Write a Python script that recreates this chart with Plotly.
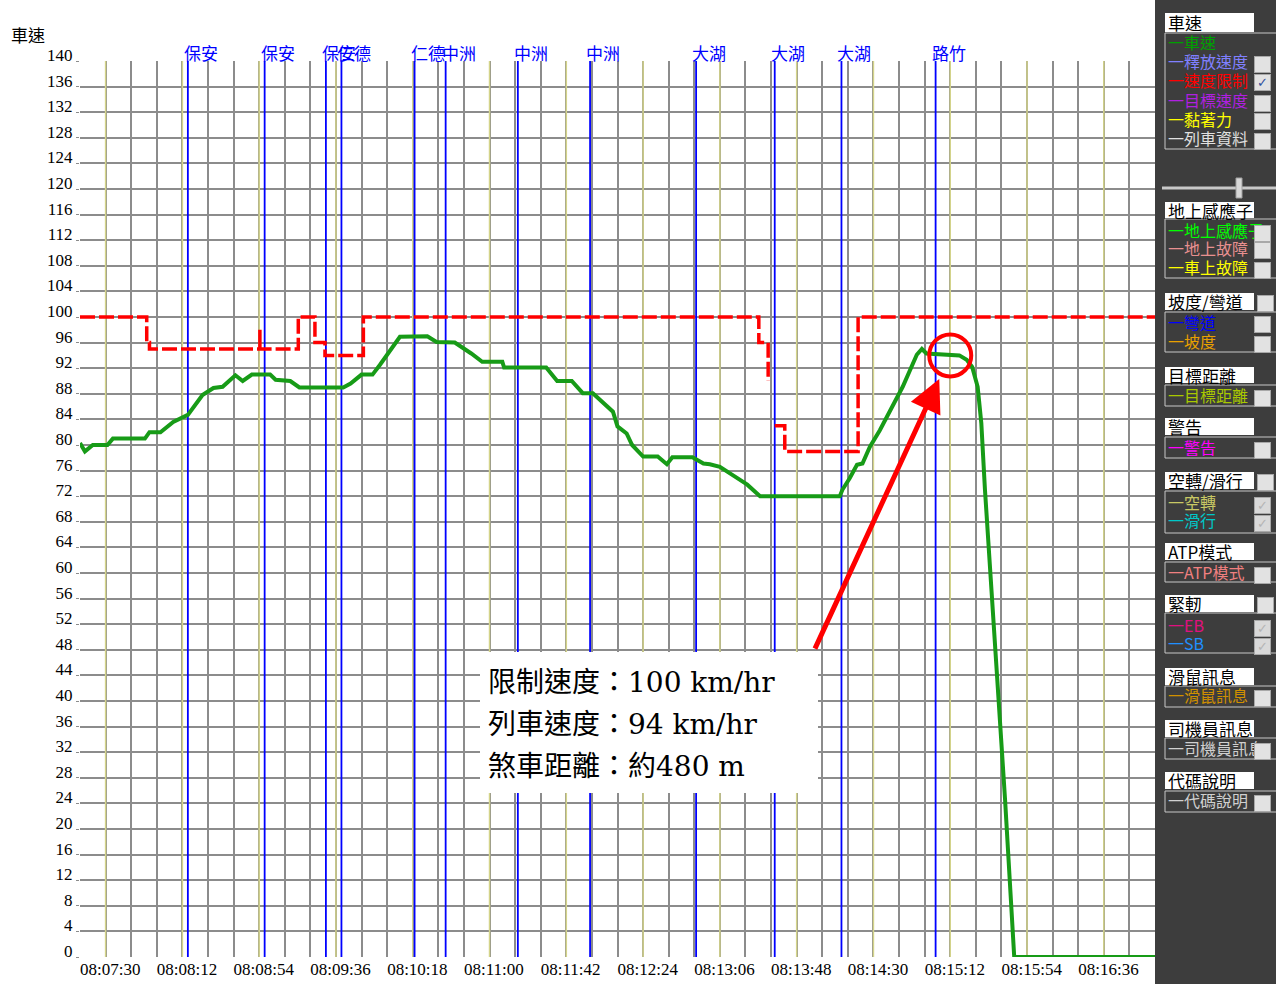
import plotly.graph_objects as go
import pandas as pd

DAY = "2021-01-01 "

# ---------------- data ----------------
speed_time = ["08:07:30", "08:07:32.7", "08:07:37", "08:07:45", "08:07:48", "08:08:05.5", "08:08:08",
              "08:08:14", "08:08:21", "08:08:26", "08:08:29", "08:08:37", "08:08:43", "08:08:48",
              "08:08:55", "08:08:59", "08:09:04", "08:09:14", "08:09:17", "08:09:25", "08:09:30",
              "08:09:54", "08:09:58", "08:10:04", "08:10:10", "08:10:14", "08:10:20", "08:10:25",
              "08:10:40", "08:10:45", "08:10:55", "08:10:59.5", "08:11:04", "08:11:10", "08:11:21",
              "08:11:22", "08:11:45", "08:11:51", "08:11:59", "08:12:05", "08:12:10.5", "08:12:21.5",
              "08:12:24", "08:12:29", "08:12:32", "08:12:38", "08:12:46", "08:12:51", "08:12:54",
              "08:13:05", "08:13:11", "08:13:14.5", "08:13:20", "08:13:27", "08:13:35", "08:13:40",
              "08:13:42", "08:14:25.6", "08:14:27", "08:14:31", "08:14:35", "08:14:38", "08:14:42",
              "08:14:47.5", "08:14:54.6", "08:15:00", "08:15:07.7", "08:15:10.5", "08:15:13",
              "08:15:31", "08:15:35", "08:15:38", "08:15:41", "08:15:43", "08:15:45", "08:15:49",
              "08:15:56", "08:16:01", "08:17:18"]
speed_kmh = [80.3, 79.0, 80.0, 80.0, 81.0, 81.0, 82.0,
             82.0, 83.6, 84.2, 84.7, 87.8, 88.9, 89.1,
             90.9, 90.0, 91.0, 91.0, 90.2, 90.0, 89.0,
             89.0, 89.6, 91.0, 91.0, 92.5, 94.8, 96.9,
             97.0, 96.1, 96.0, 95.2, 94.3, 93.0, 93.0,
             92.1, 92.1, 90.0, 90.0, 88.1, 88.1, 85.2,
             82.9, 81.8, 80.0, 78.2, 78.2, 77.0, 78.1,
             78.1, 77.1, 77.0, 76.6, 75.3, 73.8, 72.5,
             72.0, 72.0, 73.0, 74.8, 76.9, 77.1, 79.7,
             82.3, 86.0, 89.1, 94.1, 95.0, 94.3,
             94.0, 93.3, 92.2, 89.1, 83.4, 73.0, 55.8,
             24.5, 0.0, 0.0]

limit_time = ["08:07:30", "08:08:06.5", "08:08:08", "08:09:08.4", "08:09:08.4", "08:09:29.4",
              "08:09:38.5", "08:09:44", "08:10:05", "08:13:41.3", "08:13:46.4", "08:13:46.5",
              "08:13:50", "08:13:55.5", "08:14:35.6", "08:17:18"]
limit_kmh = [100, 96, 95, 98, 95, 100,
             96, 94, 100, 96, 90, None,
             83, 79, 100, 100]

station_time = ["08:08:29", "08:09:11", "08:09:44.5", "08:09:53", "08:10:33", "08:10:50",
                "08:11:29.5", "08:12:09", "08:13:07", "08:13:50", "08:14:26.5", "08:15:18"]
station_name = ["保安", "保安", "保安", "仁德", "仁德", "中洲",
                "中洲", "中洲", "大湖", "大湖", "大湖", "路竹"]

marker_time = ["08:07:44", "08:08:26", "08:09:08", "08:09:50", "08:10:32", "08:11:14", "08:11:56",
               "08:12:38", "08:13:20", "08:14:02", "08:14:44", "08:15:26", "08:16:08", "08:16:50"]

x_tick_labels = ["08:07:30", "08:08:12", "08:08:54", "08:09:36", "08:10:18", "08:11:00", "08:11:42",
                 "08:12:24", "08:13:06", "08:13:48", "08:14:30", "08:15:12", "08:15:54", "08:16:36"]
y_tick_values = [0, 4, 8, 12, 16, 20, 24, 28, 32, 36, 40, 44, 48, 52, 56, 60, 64, 68,
                 72, 76, 80, 84, 88, 92, 96, 100, 104, 108, 112, 116, 120, 124, 128, 132, 136, 140]
x_range = ["08:07:30", "08:17:18"]

note_lines = ["限制速度：100 km/hr", "列車速度：94 km/hr", "煞車距離：約480 m"]
highlight_time, highlight_kmh = "08:15:26", 94
arrow_tip_time, arrow_tip_kmh = "08:15:20", 90.3


def ts(s):
    return pd.Timestamp(DAY + s)


# ---------------- geometry helpers (layout only) ----------------
L, R, T, B = 80, 1155, 61, 957
W, H = 1276, 984


def px(x):
    return (x - L) / (R - L)


def py(y):
    return (B - y) / (B - T)


CJK = "Noto Sans CJK TC"
SERIF = "Liberation Serif"

fig = go.Figure()

# yellow marker lines
xs, ys = [], []
for t in marker_time:
    xs += [ts(t), ts(t), None]
    ys += [0, 140, None]
fig.add_trace(go.Scatter(x=xs, y=ys, mode="lines", line=dict(color="#d4d48a", width=1.5),
                         hoverinfo="skip", showlegend=False))

# blue station lines
xs, ys = [], []
for t in station_time:
    xs += [ts(t), ts(t), None]
    ys += [0, 140, None]
fig.add_trace(go.Scatter(x=xs, y=ys, mode="lines", line=dict(color="#0000ff", width=1.8),
                         hoverinfo="skip", showlegend=False))

# speed limit
fig.add_trace(go.Scatter(x=[ts(t) for t in limit_time], y=limit_kmh, mode="lines",
                         line=dict(color="#ff0000", width=3.5, dash="15px,4px", shape="hv"),
                         connectgaps=False, showlegend=False, name="速度限制"))

# train speed
fig.add_trace(go.Scatter(x=[ts(t) for t in speed_time], y=speed_kmh, mode="lines",
                         line=dict(color="#179b17", width=4), showlegend=False, name="車速"))

shapes = []
annotations = []

# highlight circle
shapes.append(dict(type="circle", xref="x", yref="y", xsizemode="pixel", ysizemode="pixel",
                   xanchor=ts(highlight_time), yanchor=highlight_kmh,
                   x0=-21, x1=21, y0=-21, y1=21, line=dict(color="#ff0000", width=4),
                   layer="above"))

# note box
shapes.append(dict(type="rect", xref="paper", yref="paper", x0=px(480), x1=px(818),
                   y0=py(793), y1=py(652), fillcolor="white", line=dict(width=0), layer="above"))
for line_txt, yy in zip(note_lines, [682, 724.5, 766.5]):
    annotations.append(dict(text=line_txt, xref="paper", yref="paper", x=px(486), y=py(yy),
                            xanchor="left", yanchor="middle", showarrow=False,
                            font=dict(family="DejaVu Serif, " + CJK, size=28, color="black")))

# arrow
annotations.append(dict(text="", x=ts(arrow_tip_time), y=arrow_tip_kmh, xref="x", yref="y",
                        showarrow=True, ax=-125, ay=271, axref="pixel", ayref="pixel",
                        arrowcolor="#ff0000", arrowwidth=5, arrowhead=2, arrowsize=1.3))

# station labels
for t, n in zip(station_time, station_name):
    annotations.append(dict(text=n, x=ts(t), xref="x", yref="paper", y=1, xanchor="left",
                            yanchor="middle", xshift=-6, yshift=9, showarrow=False,
                            font=dict(family=CJK, size=17, color="#0000ff")))

# y-axis title
annotations.append(dict(text="車速", xref="paper", yref="paper", x=px(9), y=py(35),
                        xanchor="left", yanchor="middle", showarrow=False,
                        font=dict(family=CJK, size=17, color="black")))

# ---------------- right control panel ----------------
shapes.append(dict(type="rect", xref="paper", yref="paper", x0=px(1155), x1=px(1300),
                   y0=py(1000), y1=py(-20), fillcolor="#3d3d3d", line=dict(width=0), layer="above"))
# slider
shapes.append(dict(type="line", xref="paper", yref="paper", x0=px(1162), x1=px(1300),
                   y0=py(188), y1=py(188), line=dict(color="#c8c8c8", width=3), layer="above"))
shapes.append(dict(type="rect", xref="paper", yref="paper", x0=px(1236), x1=px(1242),
                   y0=py(198), y1=py(178), fillcolor="#d8d8d8", line=dict(color="#a0a0a0", width=1),
                   layer="above"))

panel = [
    ("車速", 13, 32, False, 33, 149, [("車速", "#00a000", 42, None), ("釋放速度", "#8080ff", 61, "off"),
                                      ("速度限制", "#ff0000", 80, "on"), ("目標速度", "#b020e0", 100, "off"),
                                      ("黏著力", "#ffff00", 119, "off"), ("列車資料", "#e0e0e0", 138, "off")]),
    ("地上感應子", 202, 218, False, 219, 278, [("地上感應子", "#00ff00", 230, "off"),
                                            ("地上故障", "#e89090", 248, "off"),
                                            ("車上故障", "#ffff00", 267, "off")]),
    ("坡度/彎道", 293, 310, True, 312, 352, [("彎道", "#0000ff", 322, "off"), ("坡度", "#e8a000", 341, "off")]),
    ("目標距離", 367, 383, False, 385, 406, [("目標距離", "#a8c800", 395, "off")]),
    ("警告", 418, 435, False, 437, 458, [("警告", "#ff00ff", 447, "off")]),
    ("空轉/滑行", 472, 489, True, 491, 533, [("空轉", "#c8c864", 502, "dis"), ("滑行", "#00c8c8", 520, "dis")]),
    ("ATP模式", 543, 560, False, 562, 582, [("ATP模式", "#f08080", 572, "off")]),
    ("緊軔", 595, 612, True, 613, 653, [("EB", "#e0107f", 625, "dis"), ("SB", "#2090ff", 643, "dis")]),
    ("滑鼠訊息", 668, 685, False, 686, 707, [("滑鼠訊息", "#d09000", 695, "off")]),
    ("司機員訊息", 720, 737, False, 738, 759, [("司機員訊息", "#d0d0d0", 748, "off")]),
    ("代碼說明", 772, 789, False, 791, 812, [("代碼說明", "#d0d0d0", 800, "off")]),
]

checkboxes = []


def checkbox(xl, yc, state):
    txt = {"on": "✓", "dis": "✓"}.get(state, " ")
    col = {"on": "#3050a0", "dis": "#b4b4b4"}.get(state, "#000000")
    bg = "#d9d9d9" if state == "dis" else "#e2e2e2"
    return dict(text=txt, xref="paper", yref="paper", x=px(xl), y=py(yc), xanchor="left",
                yanchor="middle", showarrow=False, width=13, height=13, borderpad=1,
                borderwidth=1, bordercolor="#a8a8a8", bgcolor=bg,
                font=dict(family="DejaVu Sans", size=13, color=col))


for title, htop, hbot, hcheck, btop, bbot, items in panel:
    shapes.append(dict(type="rect", xref="paper", yref="paper", x0=px(1165), x1=px(1254),
                       y0=py(hbot), y1=py(htop), fillcolor="white", line=dict(width=0), layer="above"))
    shapes.append(dict(type="rect", xref="paper", yref="paper", x0=px(1165), x1=px(1300),
                       y0=py(bbot), y1=py(btop), fillcolor="rgba(0,0,0,0)",
                       line=dict(color="#c8c8c8", width=1), layer="above"))
    annotations.append(dict(text=title, xref="paper", yref="paper", x=px(1166), y=py((htop + hbot) / 2),
                            xanchor="left", yanchor="middle", showarrow=False,
                            font=dict(family=CJK, size=17, color="black")))
    if hcheck:
        checkboxes.append(checkbox(1257, (htop + hbot) / 2 + 2, "off"))
    for name, color, yy, state in items:
        annotations.append(dict(text="一" + name, xref="paper", yref="paper", x=px(1166), y=py(yy),
                                xanchor="left", yanchor="middle", showarrow=False,
                                font=dict(family=CJK, size=16, color=color)))
        if state is not None:
            checkboxes.append(checkbox(1254, yy + 3, state))

annotations += checkboxes

# ---------------- layout ----------------
fig.update_layout(
    width=W, height=H, autosize=False,
    margin=dict(l=L, r=W - R, t=T, b=H - B, autoexpand=False),
    paper_bgcolor="white", plot_bgcolor="white",
    shapes=shapes, annotations=annotations,
    xaxis=dict(type="date", range=[ts(x_range[0]), ts(x_range[1])], automargin=False,
               tickvals=[ts(s) for s in x_tick_labels], ticktext=x_tick_labels,
               tickmode="array", ticklabelposition="outside right",
               showgrid=True, gridcolor="#8c8c8c", gridwidth=1.5,
               minor=dict(tickmode="linear", tick0=ts("08:07:30"), dtick=14000, showgrid=True,
                          gridcolor="#8c8c8c", gridwidth=1.5, ticks=""),
               zeroline=False, showline=False, ticks="",
               tickfont=dict(family=SERIF, size=17, color="black")),
    yaxis=dict(range=[0, 140], tickmode="array", tickvals=y_tick_values, automargin=False,
               showgrid=True, gridcolor="#8c8c8c", gridwidth=1.5, zeroline=False,
               showline=False, ticks="outside", ticklen=3, tickcolor="#8c8c8c",
               ticklabelshift=-6,
               tickfont=dict(family=SERIF, size=17, color="black")),
)

fig.write_html("out.html", config={"displayModeBar": False},
               post_script="document.body.style.margin='0';")
